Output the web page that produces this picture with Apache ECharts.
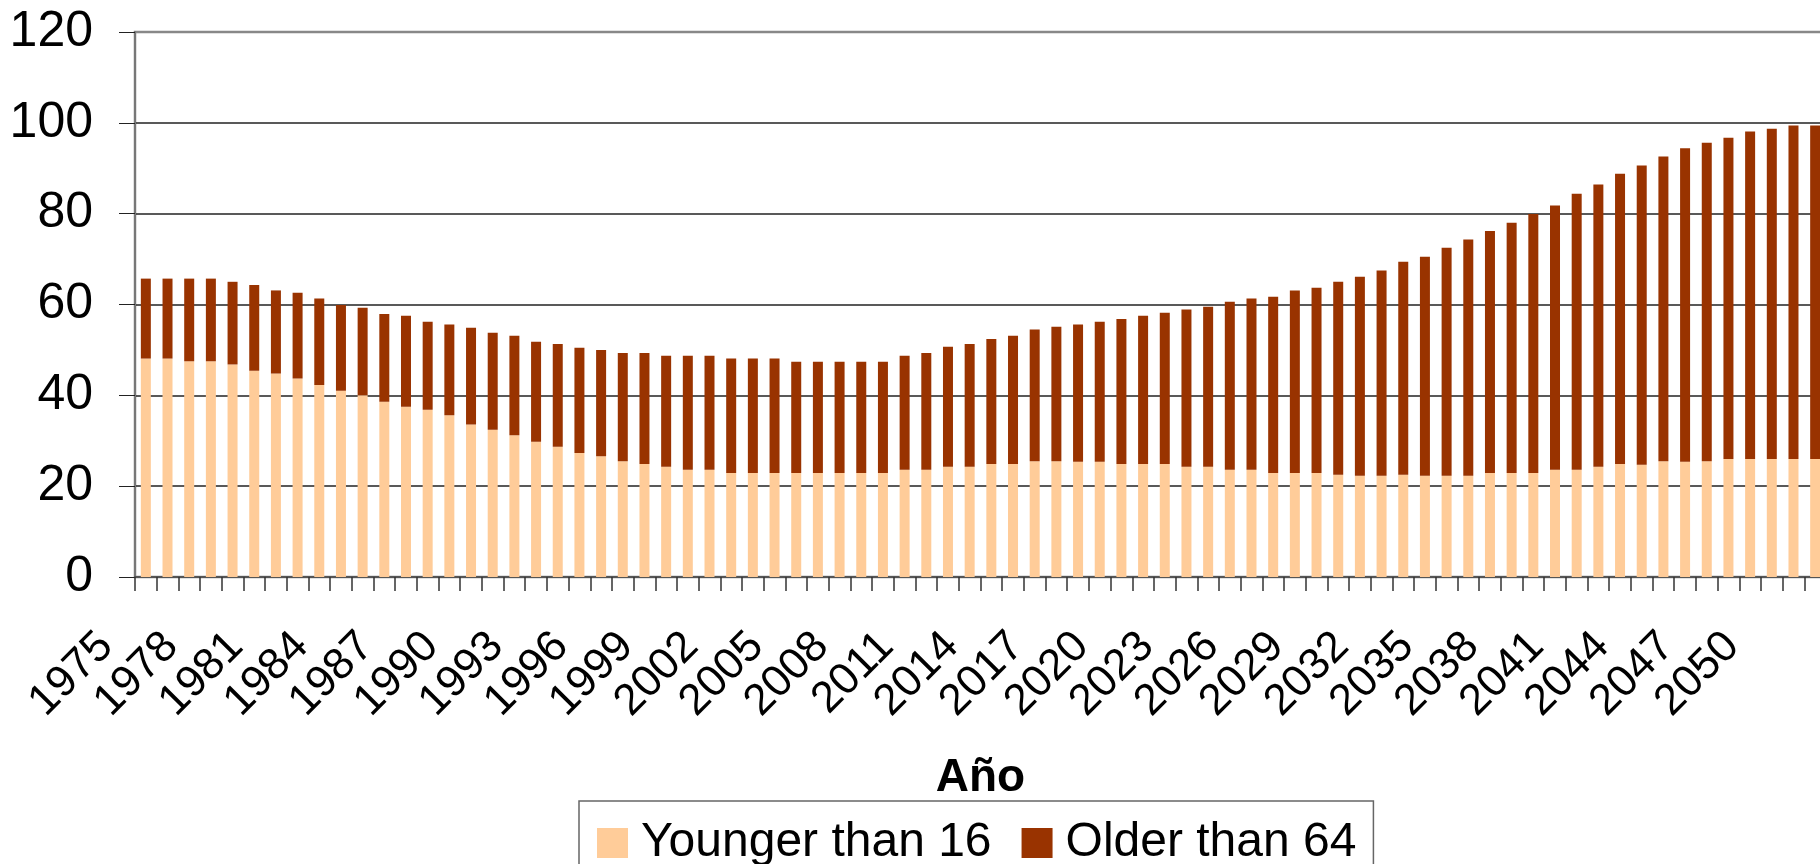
<!DOCTYPE html>
<html>
<head>
<meta charset="utf-8">
<title>Dependency ratio</title>
<script src="https://cdn.jsdelivr.net/npm/echarts@6/dist/echarts.min.js"></script>
<style>
  html, body { margin: 0; padding: 0; background: #fff; }
  #chart { width: 1820px; height: 864px; }
</style>
</head>
<body>
<div id="chart"></div>
<script>
// años 1975 - 2052
var years = [
  "1975","1976","1977","1978","1979","1980","1981","1982","1983","1984",
  "1985","1986","1987","1988","1989","1990","1991","1992","1993","1994",
  "1995","1996","1997","1998","1999","2000","2001","2002","2003","2004",
  "2005","2006","2007","2008","2009","2010","2011","2012","2013","2014",
  "2015","2016","2017","2018","2019","2020","2021","2022","2023","2024",
  "2025","2026","2027","2028","2029","2030","2031","2032","2033","2034",
  "2035","2036","2037","2038","2039","2040","2041","2042","2043","2044",
  "2045","2046","2047","2048","2049","2050","2051","2052"
];

// menores de 16
var younger = [
  48.1, 48.1, 47.5, 47.5, 46.8, 45.4, 44.8, 43.7, 42.3, 41.0,
  40.0, 38.6, 37.5, 36.8, 35.6, 33.6, 32.4, 31.2, 29.8, 28.7,
  27.3, 26.6, 25.5, 24.9, 24.3, 23.6, 23.6, 22.9, 22.9, 22.9,
  22.9, 22.9, 22.9, 22.9, 22.9, 23.6, 23.6, 24.3, 24.3, 24.9,
  24.9, 25.5, 25.5, 25.4, 25.4, 24.9, 24.9, 24.9, 24.3, 24.3,
  23.6, 23.6, 22.9, 22.9, 22.9, 22.5, 22.3, 22.3, 22.5, 22.3,
  22.3, 22.3, 22.9, 22.9, 22.9, 23.6, 23.6, 24.3, 24.9, 24.7,
  25.5, 25.4, 25.5, 26.0, 26.0, 26.0, 26.0, 26.0
];

// mayores de 64
var older = [
  17.6, 17.6, 18.2, 18.2, 18.2, 18.9, 18.3, 18.9, 19.0, 18.9,
  19.3, 19.3, 20.0, 19.4, 20.0, 21.3, 21.4, 21.9, 22.0, 22.6,
  23.2, 23.4, 23.8, 24.4, 24.4, 25.1, 25.1, 25.2, 25.2, 25.2,
  24.5, 24.5, 24.5, 24.5, 24.5, 25.1, 25.7, 26.4, 27.0, 27.5,
  28.2, 29.0, 29.6, 30.2, 30.8, 31.9, 32.6, 33.3, 34.6, 35.2,
  37.0, 37.7, 38.8, 40.2, 40.8, 42.5, 43.8, 45.2, 46.9, 48.2,
  50.2, 52.0, 53.3, 55.1, 57.0, 58.2, 60.8, 62.1, 63.9, 65.9,
  67.1, 69.0, 70.1, 70.7, 72.1, 72.7, 73.4, 73.4
];

var font = "'Liberation Sans', Arial, sans-serif";

var myChart = echarts.init(document.getElementById("chart"));

var option = {
  animation: false,
  color: ["#FFCC99", "#993300"],
  textStyle: { fontFamily: font },
  grid: {
    left: 135,
    right: -6,
    top: 32,
    bottom: 287,
    show: true,
    borderColor: "#888",
    borderWidth: 2.5,
    containLabel: false,
    outerBoundsMode: "none"
  },
  legend: {
    left: 579,
    top: 801,
    orient: "horizontal",
    icon: "rect",
    itemWidth: 31,
    itemHeight: 30,
    itemGap: 30,
    padding: [18, 17, 18, 18],
    borderColor: "#666",
    borderWidth: 1.5,
    textStyle: {
      fontFamily: font,
      fontSize: 48,
      color: "#000",
      padding: [0, 0, 0, 8]
    },
    data: ["Younger than 16", "Older than 64"]
  },
  xAxis: {
    type: "category",
    data: years,
    name: "Año",
    nameLocation: "middle",
    nameGap: 178,
    nameTextStyle: {
      fontFamily: font,
      fontSize: 46,
      fontWeight: "bold",
      color: "#000"
    },
    axisLine: {
      show: true,
      lineStyle: { color: "#555", width: 2 }
    },
    axisTick: {
      show: true,
      interval: 0,
      length: 14,
      lineStyle: { color: "#333", width: 1.5 }
    },
    axisLabel: {
      interval: 2,
      rotate: 45,
      margin: 23,
      // el padding derecho corre la etiqueta hacia abajo-izquierda
      padding: [0, 56, 0, 0],
      fontFamily: font,
      fontSize: 44,
      color: "#000"
    },
    splitLine: { show: false }
  },
  yAxis: {
    type: "value",
    min: 0,
    max: 120,
    interval: 20,
    axisLine: {
      show: true,
      lineStyle: { color: "#777", width: 2 }
    },
    axisTick: {
      show: true,
      length: 16,
      lineStyle: { color: "#222", width: 1 }
    },
    axisLabel: {
      margin: 42,
      fontFamily: font,
      fontSize: 50,
      color: "#000"
    },
    splitLine: {
      show: true,
      showMaxLine: false,
      lineStyle: { color: "#222", width: 1.5 }
    }
  },
  series: [
    {
      name: "Younger than 16",
      type: "bar",
      stack: "total",
      barWidth: 10,
      data: younger
    },
    {
      name: "Older than 64",
      type: "bar",
      stack: "total",
      barWidth: 10,
      data: older
    }
  ]
};

myChart.setOption(option);
window.addEventListener("resize", function () {
  if (myChart) myChart.resize();
});
</script>
</body>
</html>
